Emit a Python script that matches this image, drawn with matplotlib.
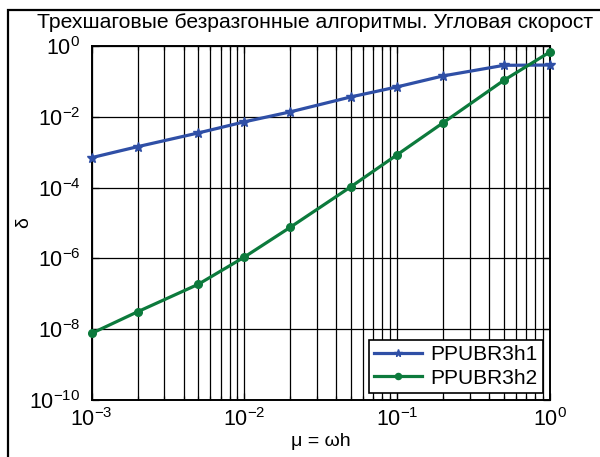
import numpy as np
import matplotlib
matplotlib.use('Agg')
import matplotlib.pyplot as plt
from matplotlib.patches import Rectangle
from matplotlib.ticker import LogLocator, NullLocator, LogFormatterSciNotation

plt.rcParams['font.family'] = ['Liberation Sans', 'DejaVu Sans']
plt.rcParams['mathtext.fontset'] = 'custom'
plt.rcParams['mathtext.rm'] = 'Liberation Sans'
plt.rcParams['mathtext.default'] = 'regular'

# step sizes mu = omega*h and errors of both algorithms
mu = [1e-3, 2e-3, 5e-3, 1e-2, 2e-2, 5e-2, 1e-1, 2e-1, 5e-1, 1.0]
err_h1 = [7.0e-4, 1.43e-3, 3.5e-3, 7.2e-3, 1.38e-2, 3.66e-2, 7.0e-2, 1.43e-1, 2.85e-1, 2.9e-1]
err_h2 = [7.6e-9, 3.1e-8, 1.86e-7, 1.09e-6, 7.6e-6, 1.07e-4, 8.5e-4, 6.8e-3, 1.08e-1, 6.8e-1]
names = ['PPUBR3h1', 'PPUBR3h2']
title = 'Трехшаговые безразгонные алгоритмы. Угловая скорост'

fig = plt.figure(figsize=(6.0, 4.57), dpi=100)
# outer frame around the figure
fig.patches.append(Rectangle((8/600, -0.1), 1.2, 1 - 10/457 + 0.1, transform=fig.transFigure,
                             fill=False, ec='black', lw=1.6, zorder=0))

ax = fig.add_axes([91.5/600, 1 - 400/457, (550 - 91.5)/600, (400 - 46)/457])
ax.plot(mu, err_h1, color='#2f4fa6', lw=2.3, marker='*', ms=7, label=names[0], clip_on=False, zorder=3)
ax.plot(mu, err_h2, color='#0c7a3c', lw=2.3, marker='o', ms=5.5, label=names[1], clip_on=False, zorder=3)

ax.set_xscale('log')
ax.set_yscale('log')
ax.set_xlim(1e-3, 1)
ax.set_ylim(1e-10, 1)
ax.set_yticks([1e-10, 1e-8, 1e-6, 1e-4, 1e-2, 1e0])
ax.yaxis.set_major_formatter(LogFormatterSciNotation())
ax.yaxis.set_minor_locator(NullLocator())
ax.xaxis.set_minor_locator(LogLocator(base=10, subs=np.arange(2, 10)))

ax.grid(True, which='major', axis='both', color='black', lw=0.9)
ax.grid(True, which='minor', axis='x', color='black', lw=0.9)
ax.tick_params(which='both', direction='in', top=True, right=True, labelsize=15.5, width=0.9)
ax.tick_params(which='major', length=5)
ax.tick_params(which='minor', length=3)
ax.tick_params(axis='y', pad=8)
ax.tick_params(axis='x', pad=6)
for s in ax.spines.values():
    s.set_linewidth(1.4)

ax.set_xlabel('μ = ωh', fontsize=14, labelpad=1)
ax.set_ylabel('δ', fontsize=14)
ax.yaxis.set_label_coords(-(91.5 - 32) / 458.5, 0.5)
ax.text(37/600, 1 - 22/457, title, transform=fig.transFigure, fontsize=15.2,
        ha='left', va='center')

leg = ax.legend(loc='lower right', fontsize=15, frameon=True, fancybox=False,
                edgecolor='black', framealpha=1, borderaxespad=0.35, handlelength=2.3,
                handletextpad=0.4, borderpad=0.25, labelspacing=0.2, markerscale=0.8)
leg.get_frame().set_linewidth(1.2)

fig.savefig('out.png', dpi=100)
